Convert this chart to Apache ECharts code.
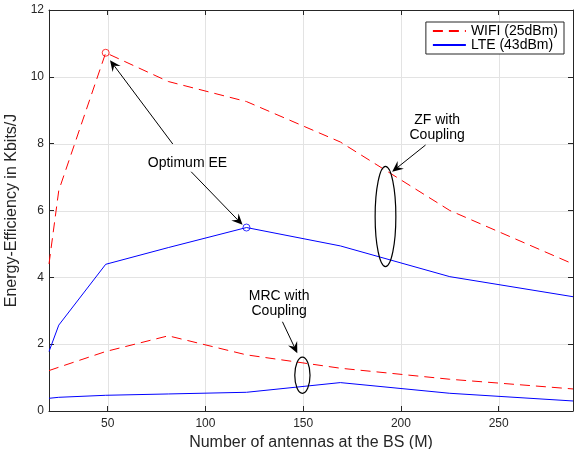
<!DOCTYPE html>
<html><head><meta charset="utf-8">
<script src="https://cdn.jsdelivr.net/npm/echarts@6/dist/echarts.min.js"></script>
<style>html,body{margin:0;padding:0;background:#fff}#c{width:574px;height:449px}</style>
</head><body><div id="c"></div>
<script>
const antennas = [20, 25, 49, 81, 121, 169, 225, 288];
const wifiZF  = [4.4, 6.6, 10.72, 9.86, 9.26, 8.05, 6.0, 4.4];
const lteZF   = [1.78, 2.57, 4.39, 4.89, 5.49, 4.94, 4.02, 3.42];
const wifiMRC = [1.21, 1.31, 1.78, 2.25, 1.68, 1.28, 0.95, 0.66];
const lteMRC  = [0.38, 0.41, 0.47, 0.51, 0.56, 0.85, 0.53, 0.30];
const wifiPeak = [49, 10.72];
const ltePeak = [121, 5.49];
const xTicks = [50, 100, 150, 200, 250];
const yTicks = [0, 2, 4, 6, 8, 10, 12];
const seriesNames = ['WIFI (25dBm)', 'LTE (43dBm)'];
const xTitle = 'Number of antennas at the BS (M)';
const yTitle = 'Energy-Efficiency in Kbits/J';

const FONT = 'Liberation Sans, Arial, sans-serif';
const AX = '#262626';
const GRID = '#e3e3e3';
const chart = echarts.init(document.getElementById('c'), null, {renderer: 'canvas'});
const pair = (xs, ys) => xs.map((x, i) => [x, ys[i]]);

function xAxisDef(pos, main) {
  return {
    type: 'value', min: 20, max: 288, position: pos,
    name: main ? xTitle : '', nameLocation: 'middle', nameGap: 22,
    nameTextStyle: {fontFamily: FONT, fontSize: 16, color: AX},
    axisLine: {show: true, onZero: false, lineStyle: {color: AX, width: 1}},
    axisTick: {show: true, inside: true, length: 5, customValues: xTicks, lineStyle: {color: AX}},
    axisLabel: {show: main, customValues: xTicks, fontFamily: FONT, fontSize: 12, color: AX, margin: 7},
    splitLine: {show: false}
  };
}
function yAxisDef(pos, main) {
  return {
    type: 'value', min: 0, max: 12, position: pos,
    name: main ? yTitle : '', nameLocation: 'middle', nameGap: 17,
    nameTextStyle: {fontFamily: FONT, fontSize: 16, color: AX},
    axisLine: {show: true, onZero: false, lineStyle: {color: AX, width: 1}},
    axisTick: {show: true, inside: true, length: 5, customValues: yTicks, lineStyle: {color: AX}},
    axisLabel: {show: main, customValues: yTicks, fontFamily: FONT, fontSize: 12, color: AX, margin: 5},
    splitLine: {show: false}
  };
}

const red = '#ff0000', blue = '#0000ff';
const dash = [10, 6];
chart.setOption({
  animation: false,
  grid: {left: 49, right: 1, top: 10, bottom: 38, containLabel: false, outerBoundsMode: 'none'},
  xAxis: [xAxisDef('bottom', true), xAxisDef('top', false)],
  yAxis: [yAxisDef('left', true), yAxisDef('right', false)],
  legend: {
    orient: 'vertical', right: 10, top: 22,
    data: seriesNames,
    backgroundColor: '#fff', borderColor: AX, borderWidth: 1,
    padding: [2, 6, 2, 6], itemGap: 0, itemWidth: 33, itemHeight: 13,
    itemStyle: {opacity: 0},
    textStyle: {fontFamily: FONT, fontSize: 14, color: '#000'}
  },
  series: [
    {name: seriesNames[0], type: 'line', data: pair(antennas, wifiZF), symbol: 'none', lineStyle: {color: red, width: 1, type: dash}, itemStyle: {color: red}},
    {name: seriesNames[1], type: 'line', data: pair(antennas, lteZF), symbol: 'none', lineStyle: {color: blue, width: 1}, itemStyle: {color: blue}},
    {name: seriesNames[0], type: 'line', data: pair(antennas, wifiMRC), symbol: 'none', lineStyle: {color: red, width: 1, type: dash}, itemStyle: {color: red}},
    {name: seriesNames[1], type: 'line', data: pair(antennas, lteMRC), symbol: 'none', lineStyle: {color: blue, width: 1}, itemStyle: {color: blue}},
    {type: 'scatter', data: [wifiPeak], symbol: 'circle', symbolSize: 7, itemStyle: {color: 'rgba(255,255,255,0)', borderColor: red, borderWidth: 1}},
    {type: 'scatter', data: [ltePeak], symbol: 'circle', symbolSize: 7, itemStyle: {color: 'rgba(255,255,255,0)', borderColor: blue, borderWidth: 1}}
  ]
});

// Grid lines at the tick values
const px = p => chart.convertToPixel({gridIndex: 0}, p);
const g = [];
xTicks.forEach(v => {
  const a = px([v, 0]), b = px([v, 12]);
  g.push({type: 'line', shape: {x1: Math.round(a[0]) + 0.5, y1: a[1], x2: Math.round(b[0]) + 0.5, y2: b[1]}, style: {stroke: GRID, lineWidth: 1}, z: -1, silent: true});
});
yTicks.filter(v => v > 0 && v < 12).forEach(v => {
  const a = px([20, v]), b = px([288, v]);
  g.push({type: 'line', shape: {x1: a[0], y1: Math.round(a[1]) + 0.5, x2: b[0], y2: Math.round(b[1]) + 0.5}, style: {stroke: GRID, lineWidth: 1}, z: -1, silent: true});
});

// Annotations in data coordinates
const annText = [
  {text: 'Optimum EE', at: [90.8, 7.43]},
  {text: 'ZF with\nCoupling', at: [218.5, 8.49]},
  {text: 'MRC with\nCoupling', at: [137.7, 3.22]}
];
const annArrows = [
  {from: [83.3, 7.99], to: [51.2, 10.5]},
  {from: [92.7, 7.16], to: [119, 5.57]},
  {from: [212.6, 7.96], to: [195.5, 7.16]},
  {from: [139.4, 2.67], to: [147, 1.73]}
];
const annEllipses = [
  {center: [192.1, 5.82], r: [5.3, 1.5]},
  {center: [149.6, 1.07], r: [3.9, 0.54]}
];

annText.forEach(a => {
  const p = px(a.at);
  g.push({type: 'text', x: p[0], y: p[1], style: {text: a.text, fontFamily: FONT, fontSize: 14, fill: '#000', align: 'center', verticalAlign: 'middle', lineHeight: 15}, z: 100});
});
annArrows.forEach(a => {
  const f = px(a.from), t = px(a.to);
  const dx = t[0] - f[0], dy = t[1] - f[1], L = Math.hypot(dx, dy);
  const ux = dx / L, uy = dy / L, nx = -uy, ny = ux;
  const hl = 11, hw = 5, notch = 7;
  const b = [t[0] - ux * hl, t[1] - uy * hl];
  const n = [t[0] - ux * notch, t[1] - uy * notch];
  g.push({type: 'line', shape: {x1: f[0], y1: f[1], x2: n[0], y2: n[1]}, style: {stroke: '#000', lineWidth: 1}, z: 100});
  g.push({type: 'polygon', shape: {points: [t, [b[0] + nx * hw, b[1] + ny * hw], n, [b[0] - nx * hw, b[1] - ny * hw]]}, style: {fill: '#000'}, z: 100});
});
annEllipses.forEach(e => {
  const c = px(e.center);
  const rx = px([e.center[0] + e.r[0], e.center[1]])[0] - c[0];
  const ry = c[1] - px([e.center[0], e.center[1] + e.r[1]])[1];
  g.push({type: 'ellipse', shape: {cx: c[0], cy: c[1], rx: rx, ry: ry}, style: {fill: 'none', stroke: '#000', lineWidth: 1.2}, z: 100});
});
chart.setOption({graphic: g});
</script>
</body></html>
